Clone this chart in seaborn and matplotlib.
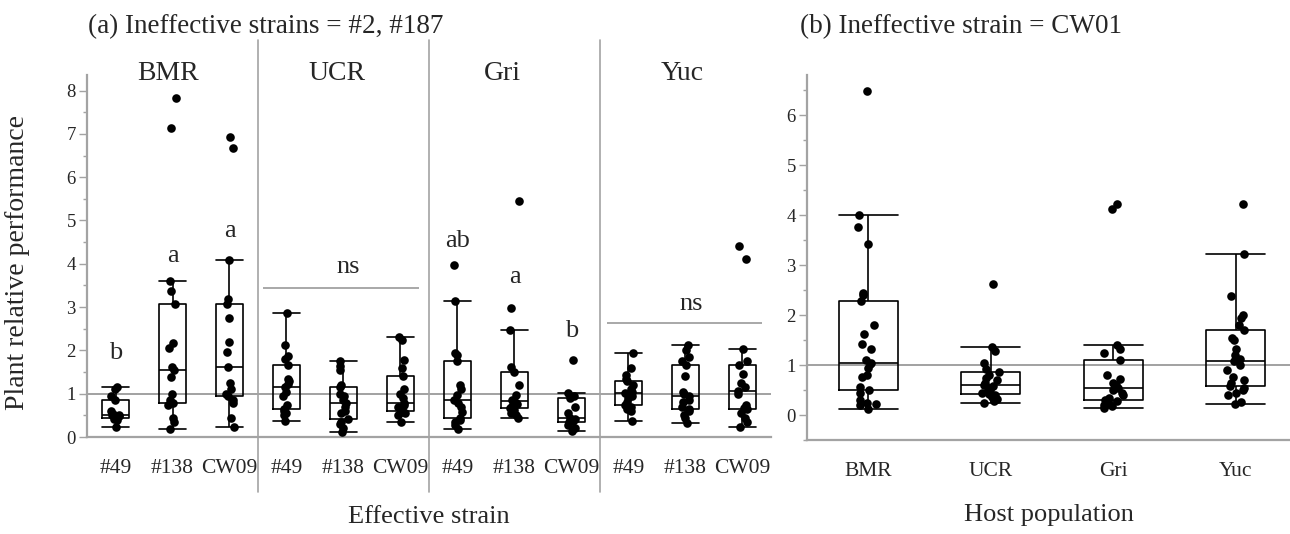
import numpy as np
import pandas as pd
import seaborn as sns
import matplotlib.pyplot as plt
from matplotlib.ticker import MultipleLocator

hosts = ["BMR", "UCR", "Gri", "Yuc"]
strains = ["#49", "#138", "CW09"]

# (a) ineffective strains = #2, #187 ; plant relative performance per host x effective strain
bmr_49 = [0.22, 0.4, 0.42, 0.45, 0.48, 0.5, 0.5, 0.52, 0.6, 0.85, 0.95, 1.1, 1.15]
bmr_138 = [0.18, 0.35, 0.43, 0.74, 0.78, 0.85, 1.0, 1.39, 1.55, 1.62, 2.05, 2.18, 3.07, 3.38, 3.61, 7.13, 7.83]
bmr_cw09 = [0.22, 0.43, 0.78, 0.85, 0.95, 1.0, 1.12, 1.24, 1.62, 1.97, 2.2, 2.74, 3.07, 3.18, 4.09, 6.68, 6.93]
ucr_49 = [0.38, 0.5, 0.55, 0.6, 0.64, 0.75, 0.95, 1.05, 1.16, 1.22, 1.3, 1.35, 1.66, 1.79, 1.87, 2.12, 2.86]
ucr_138 = [0.11, 0.2, 0.3, 0.35, 0.41, 0.55, 0.6, 0.7, 0.79, 0.85, 0.95, 1.0, 1.16, 1.2, 1.55, 1.65, 1.76]
ucr_cw09 = [0.34, 0.5, 0.55, 0.58, 0.6, 0.65, 0.7, 0.75, 0.78, 0.9, 1.0, 1.1, 1.42, 1.59, 1.78, 2.25, 2.3]
gri_49 = [0.18, 0.28, 0.35, 0.4, 0.43, 0.58, 0.7, 0.78, 0.85, 0.97, 1.12, 1.2, 1.76, 1.9, 1.95, 3.15, 3.97]
gri_138 = [0.45, 0.5, 0.55, 0.63, 0.68, 0.72, 0.76, 0.78, 0.82, 0.85, 0.97, 1.2, 1.49, 1.61, 2.47, 2.99, 5.45]
gri_cw09 = [0.14, 0.2, 0.28, 0.35, 0.38, 0.42, 0.45, 0.55, 0.7, 0.9, 0.95, 1.02, 1.78]
yuc_49 = [0.38, 0.6, 0.65, 0.7, 0.74, 0.8, 0.9, 0.95, 1.01, 1.05, 1.1, 1.2, 1.29, 1.35, 1.44, 1.6, 1.93]
yuc_138 = [0.32, 0.45, 0.5, 0.6, 0.65, 0.7, 0.8, 0.85, 0.95, 1.0, 1.05, 1.41, 1.66, 1.75, 1.85, 2.0, 2.12]
yuc_cw09 = [0.24, 0.35, 0.45, 0.55, 0.64, 0.68, 0.75, 1.0, 1.07, 1.15, 1.25, 1.45, 1.66, 1.75, 2.04, 4.1, 4.4]
letters_a = ["b", "a", "a", "ab", "a", "b"]

# (b) ineffective strain = CW01 ; per host population
cw01_bmr = [0.12, 0.2, 0.23, 0.25, 0.3, 0.45, 0.5, 0.57, 0.77, 0.8, 0.95, 1.02, 1.05,
            1.1, 1.33, 1.43, 1.63, 1.8, 2.28, 2.4, 2.45, 3.42, 3.77, 4.0, 6.48]
cw01_ucr = [0.25, 0.28, 0.32, 0.36, 0.4, 0.42, 0.45, 0.5, 0.55, 0.58, 0.6,
            0.65, 0.7, 0.75, 0.8, 0.87, 0.92, 1.05, 1.28, 1.37, 2.63]
cw01_gri = [0.15, 0.18, 0.2, 0.25, 0.28, 0.3, 0.35, 0.4, 0.45, 0.5, 0.55,
            0.6, 0.65, 0.72, 0.8, 1.1, 1.25, 1.32, 1.4, 4.11, 4.22]
cw01_yuc = [0.22, 0.27, 0.4, 0.45, 0.51, 0.55, 0.59, 0.65, 0.7, 0.77, 0.9, 1.0, 1.08,
            1.13, 1.2, 1.32, 1.5, 1.55, 1.71, 1.8, 1.95, 2.0, 2.39, 3.22, 4.22]

groups_a = [bmr_49, bmr_138, bmr_cw09, ucr_49, ucr_138, ucr_cw09,
            gri_49, gri_138, gri_cw09, yuc_49, yuc_138, yuc_cw09]
keys_a = [f"{h} {s}" for h in hosts for s in strains]
df_a = pd.DataFrame([(k, v) for k, vals in zip(keys_a, groups_a) for v in vals],
                    columns=["group", "value"])
df_b = pd.DataFrame([(h, v) for h, vals in zip(hosts, [cw01_bmr, cw01_ucr, cw01_gri, cw01_yuc])
                     for v in vals], columns=["host", "value"])

sns.set_theme(style="white")
plt.rcParams["font.family"] = ["Liberation Serif", "DejaVu Serif"]
np.random.seed(3)

W, H = 1290, 534
fig = plt.figure(figsize=(W / 100, H / 100), dpi=100)
ax1 = fig.add_axes([87 / W, 1 - 437 / H, 684 / W, 362 / H])
ax2 = fig.add_axes([807 / W, 1 - 440 / H, 483 / W, 365 / H])

grey = "#a3a3a3"
box_kw = dict(fill=False, color="black", linecolor="black", linewidth=1.2,
              width=0.48, showfliers=False, whis=1.5, capwidths=0.48)
strip_kw = dict(color="black", size=6.2, jitter=0.08, zorder=3, linewidth=0)

# panel (a)
ax1.axhline(1, color="#9a9a9a", lw=1.3, zorder=0)
sns.boxplot(data=df_a, x="group", y="value", order=keys_a, ax=ax1, **box_kw)
sns.stripplot(data=df_a, x="group", y="value", order=keys_a, ax=ax1, **strip_kw)
ax1.set_xlim(-0.5, 11.5)
ax1.set_ylim(0, 8.36)
ax1.set_xticks(range(12))
ax1.set_xticklabels(strains * 4, fontsize=15.5)
ax1.yaxis.set_major_locator(MultipleLocator(1))
ax1.yaxis.set_minor_locator(MultipleLocator(0.5))
ax1.set_ylabel("Plant relative performance", fontsize=20)
ax1.yaxis.set_label_coords(-0.083, 0.483)
ax1.set_xlabel("Effective strain", fontsize=19)
ax1.xaxis.set_label_coords(0.5, -0.19)

sep = ax1.get_xaxis_transform()
for xs in [2.5, 5.5, 8.5]:
    ax1.plot([xs, xs], [-0.152, 1.097], color=grey, lw=1.2, transform=sep, clip_on=False)
for h, xh in zip(hosts, [0.92, 3.89, 6.78, 9.94]):
    ax1.text(xh, 1.005, h, transform=sep, ha="center", va="center", fontsize=20)
for lab, xi, yi in zip(letters_a, [0, 1, 2, 6, 7, 8], [1.8, 4.04, 4.62, 4.39, 3.56, 2.31]):
    ax1.text(xi, yi, lab, ha="center", va="baseline", fontsize=19)
ax1.hlines([3.44, 2.63], [2.59, 8.62], [5.32, 11.34], color="#9a9a9a", lw=1.2)
ax1.text(4.08, 3.79, "ns", ha="center", va="baseline", fontsize=19)
ax1.text(10.1, 2.93, "ns", ha="center", va="baseline", fontsize=19)

# panel (b)
ax2.axhline(1, color="#9a9a9a", lw=1.3, zorder=0)
sns.boxplot(data=df_b, x="host", y="value", order=hosts, ax=ax2, **box_kw)
sns.stripplot(data=df_b, x="host", y="value", order=hosts, ax=ax2, **strip_kw)
ax2.set_xlim(-0.5, 3.443)
ax2.set_ylim(-0.5, 6.8)
ax2.set_xticks(range(4))
ax2.set_xticklabels(hosts, fontsize=15.5)
ax2.yaxis.set_major_locator(MultipleLocator(1))
ax2.yaxis.set_minor_locator(MultipleLocator(0.5))
ax2.set_ylabel("")
ax2.set_xlabel("Host population", fontsize=19)
ax2.xaxis.set_label_coords(0.5, -0.175)

for ax in (ax1, ax2):
    sns.despine(ax=ax)
    for s in ("left", "bottom"):
        ax.spines[s].set_color(grey)
        ax.spines[s].set_linewidth(1.6)
    ax.tick_params(axis="x", length=0, pad=16)
    ax.tick_params(axis="y", which="major", direction="out", left=True, length=6,
                   width=1, color=grey, labelsize=13.5, pad=2)
    ax.tick_params(axis="y", which="minor", direction="out", left=True, length=3,
                   width=1, color=grey)

fig.text(88 / W, 1 - 27 / H, "(a) Ineffective strains = #2, #187", fontsize=19.5,
         ha="left", va="center")
fig.text(800 / W, 1 - 27 / H, "(b) Ineffective strain = CW01", fontsize=19.5,
         ha="left", va="center")

fig.savefig("out.png", dpi=100, facecolor="white")
